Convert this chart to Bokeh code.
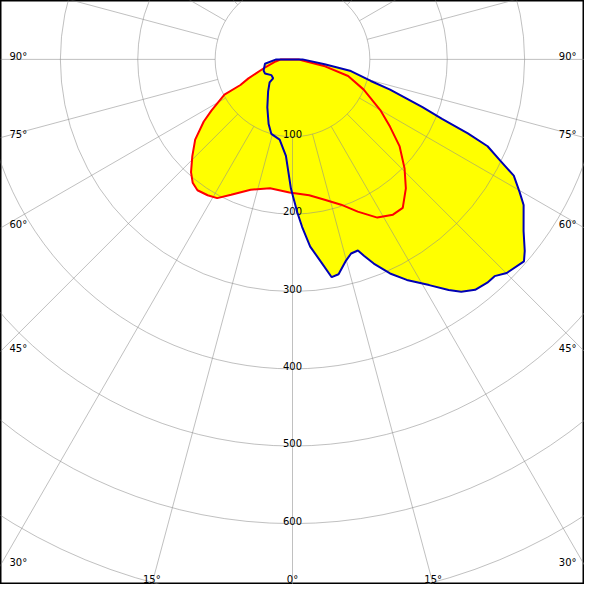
import numpy as np
from bokeh.plotting import figure
from bokeh.models import Range1d
from bokeh.embed import file_html
from bokeh.resources import INLINE
from bokeh.core.properties import value

# ---- data: polar luminous intensity curves (angle from nadir in degrees, + to the right) ----
red_angle = [-180, -90, -83, -72.4, -66.7, -63.8, -62.7, -57.7, -55, -50.5, -46, -42, -39, -36, -32,
             -28.5, -24.4, -17.8, -9.9, -1.3, 7, 12.9, 18.5, 23.2, 28.2, 32.9, 36.6, 41.3, 45.8,
             51, 55.4, 60, 67, 73.4, 78, 84, 90, 180]
red_value = [0, 15, 22, 40, 62, 75, 99, 124, 140, 163, 180, 196, 205, 209, 207,
             204, 192, 177, 169, 172, 177, 186, 198, 214, 232, 239, 239, 222, 202,
             178, 153, 131, 100, 75, 43, 13, 8, 0]

blue_angle = [-180, -90, -81, -69, -63, -53.3, -45.7, -44.8, -37.3, -27.7, -20.3, -15.9, -9.1, -3.9,
              -0.7, 1.8, 3.3, 5.4, 8.2, 10.2, 12.1, 14.9, 16.8, 18.9, 20.0, 21.7, 24.5, 27.4,
              31.2, 34.1, 36.0, 38.4, 41.1, 43.0, 45.1, 48.9, 50.5, 53.4, 57.8, 59.7, 62.3,
              64.0, 66.0, 67.1, 68.3, 69.8, 72.8, 74.6, 78.7, 81.4, 90, 180]
blue_value = [0, 21, 36, 40, 40, 34, 35, 42, 52, 70, 89, 100, 105, 125,
              167, 198, 217, 243, 266, 286, 284, 269, 262, 261, 270, 284, 304, 321,
              341, 360, 371, 380, 383, 383, 391, 397, 389, 372, 353, 340, 323,
              299, 276, 246, 208, 179, 132, 105, 77, 42, 13, 0]

ring_values = [100, 200, 300, 400, 500, 600, 700]
ring_labels = ["100", "200", "300", "400", "500", "600"]
spoke_angles = list(range(0, 360, 15))
angle_label_values = [-90, -75, -60, -45, -30, -15, 0, 15, 30, 45, 60, 75, 90]

# ---- view window (data units) ----
X0, X1 = -377.4, 377.4
Y0, Y1 = -678.6, 76.1
W = H = 584
FONT = value("DejaVu Sans")


def polar(a, r):
    t = np.radians(np.asarray(a, dtype=float))
    r = np.asarray(r, dtype=float)
    return r * np.sin(t), -r * np.cos(t)


p = figure(width=W, height=H, x_range=Range1d(X0, X1), y_range=Range1d(Y0, Y1),
           x_axis_type=None, y_axis_type=None, output_backend="svg",
           toolbar_location=None, min_border=0)
p.outline_line_color = "black"
p.outline_line_width = 2
p.background_fill_color = "white"

# filled areas
rx, ry = polar(red_angle, red_value)
bx, by = polar(blue_angle, blue_value)
p.patch(list(rx), list(ry), fill_color="#ffff00", line_color=None)
p.patch(list(bx), list(by), fill_color="#ffff00", line_color=None)

# grid: rings and spokes
grid_col = "#8c8c8c"
grid_alpha = 0.55
p.circle(x=[0] * len(ring_values), y=[0] * len(ring_values), radius=ring_values,
         fill_color=None, line_color=grid_col, line_alpha=grid_alpha, line_width=1)
sx0, sy0 = polar(spoke_angles, [ring_values[0]] * len(spoke_angles))
sx1, sy1 = polar(spoke_angles, [1200] * len(spoke_angles))
p.segment(x0=list(sx0), y0=list(sy0), x1=list(sx1), y1=list(sy1),
          line_color=grid_col, line_alpha=grid_alpha, line_width=1)

# ring labels
p.text(x=[0] * len(ring_labels), y=[-v for v in ring_values[:len(ring_labels)]], text=ring_labels,
       text_font=FONT, text_font_size="10px", text_color="black",
       text_align="center", text_baseline="alphabetic", y_offset=-3)

# curves
p.line(list(rx), list(ry), line_color="#ff0000", line_width=2)
p.line(list(bx), list(by), line_color="#0000b4", line_width=2)

# angle labels at the frame edges
left, right, bottom = {"x": [], "y": [], "t": []}, {"x": [], "y": [], "t": []}, {"x": [], "y": [], "t": []}
for a in angle_label_values:
    t = np.radians(a)
    dx, dy = np.sin(t), -np.cos(t)
    cands = []
    if dx < -1e-9:
        cands.append((X0 / dx, "left"))
    if dx > 1e-9:
        cands.append((X1 / dx, "right"))
    if dy < -1e-9:
        cands.append((Y0 / dy, "bottom"))
    d, edge = min(cands)
    tgt = {"left": left, "right": right, "bottom": bottom}[edge]
    tgt["x"].append(d * dx)
    tgt["y"].append(d * dy)
    tgt["t"].append(f"{abs(a)}\u00b0")

p.text(x=left["x"], y=left["y"], text=left["t"], text_font=FONT, text_font_size="10px",
       text_align="left", text_baseline="alphabetic", x_offset=9, y_offset=-3, text_color="black")
p.text(x=right["x"], y=right["y"], text=right["t"], text_font=FONT, text_font_size="10px",
       text_align="right", text_baseline="alphabetic", x_offset=-8, y_offset=-3, text_color="black")
p.text(x=bottom["x"], y=bottom["y"], text=bottom["t"], text_font=FONT, text_font_size="10px",
       text_align="center", text_baseline="alphabetic", y_offset=-5, text_color="black")

open("out.html", "w").write(file_html(p, INLINE))
